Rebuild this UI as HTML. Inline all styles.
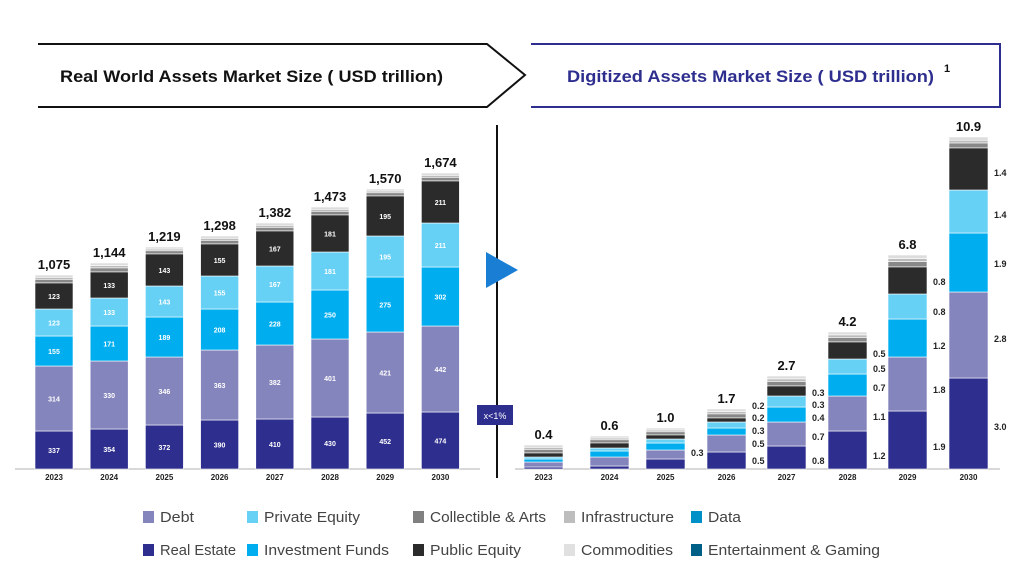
<!DOCTYPE html>
<html><head><meta charset="utf-8"><style>
body{margin:0;background:#fff;width:1024px;height:576px;overflow:hidden;font-family:"Liberation Sans",sans-serif}
svg{display:block}
</style></head><body>
<svg id="s" width="1024" height="576" xmlns="http://www.w3.org/2000/svg" font-family="Liberation Sans, sans-serif">
<polyline points="38,44 487,44 525,75 487,107 38,107" fill="none" stroke="#111" stroke-width="2"/>
<text x="60" y="82" font-size="17" font-weight="bold" fill="#111" textLength="383" lengthAdjust="spacingAndGlyphs">Real World Assets Market Size ( USD trillion)</text>
<polyline points="531,44 1000,44 1000,107 531,107" fill="none" stroke="#2e2e8f" stroke-width="2"/>
<text x="567" y="82" font-size="17" font-weight="bold" fill="#2e2e8f" textLength="367" lengthAdjust="spacingAndGlyphs">Digitized Assets Market Size ( USD trillion)</text>
<text x="944" y="72" font-size="11" font-weight="bold" fill="#111">1</text>
<line x1="497" y1="125" x2="497" y2="478" stroke="#111" stroke-width="2"/>
<polygon points="486,252 518,270 486,288" fill="#1a7fd4"/>
<rect x="477" y="405" width="36" height="20" fill="#2e2e8f"/>
<text x="495" y="419" font-size="9" fill="#fff" text-anchor="middle">x&lt;1%</text>
<line x1="15" y1="469" x2="480" y2="469" stroke="#ccc" stroke-width="1.5"/>
<line x1="515" y1="469" x2="1000" y2="469" stroke="#ccc" stroke-width="1.5"/>
<g id="g"></g>
</svg>
<script>
var C=['#2e2e8f','#8585bd','#00aeef','#66d0f5','#2b2b2b'];
var g=document.getElementById('g'),h='';
function R(x,y,w,hh,f){h+='<rect x="'+x+'" y="'+y+'" width="'+w+'" height="'+hh+'" fill="'+f+'" stroke="#fff" stroke-width="0.6"/>';}
function T(x,y,t,s,f,a,w,tl){h+='<text x="'+x+'" y="'+y+'" font-size="'+s+'" fill="'+f+'" text-anchor="'+(a||'middle')+'" font-weight="'+(w||'normal')+'"'+(tl?' textLength="'+tl+'" lengthAdjust="spacingAndGlyphs"':'')+'>'+t+'</text>';}
function caps(x,w,top,bk){var d=bk-top;R(x,top,w,d*0.3,'#ddd');R(x,top+d*0.3,w,d*0.25,'#bbb');R(x,top+d*0.55,w,d*0.45,'#888');}
var yrs=['2023','2024','2025','2026','2027','2028','2029','2030'];
var L=[[275,283,309,336,366,431],[263,272,298,326,361,429],[247,254,286,317,357,425],[236,244,276,309,350,420],[223,231,266,302,345,419],[207,215,252,290,339,417],[189,196,236,277,332,413],[173,181,223,267,326,412]];
var LV=[[337,314,155,123,123],[354,330,171,133,133],[372,346,189,143,143],[390,363,208,155,155],[410,382,228,167,167],[430,401,250,181,181],[452,421,275,195,195],[474,442,302,211,211]];
var LT=['1,075','1,144','1,219','1,298','1,382','1,473','1,570','1,674'];
for(var i=0;i<8;i++){var x=35+i*55.2,w=38,b=L[i],bs=[469,b[5],b[4],b[3],b[2],b[1]];
 caps(x,w,b[0],b[1]);
 for(var k=0;k<5;k++){R(x,bs[k+1],w,bs[k]-bs[k+1],C[k]);T(x+w/2,(bs[k]+bs[k+1])/2+3,LV[i][k],7,'#fff','middle','bold');}
 T(x+w/2,b[0]-6,LT[i],13,'#111','middle','bold');T(x+w/2,480,yrs[i],8,'#222','middle','bold');}
var Rr=[[445,453,457,459,462,467],[436,443,448,451,457,466],[428,435,439,443,450,459],[409,418,422,428,435,452],[376,386,396,407,422,446],[332,342,359,374,396,431],[255,267,294,319,357,411],[137,148,190,233,292,378]];
var RX=[524,590,646,707,767,828,888,949];
var RT=['0.4','0.6','1.0','1.7','2.7','4.2','6.8','10.9'];
var RV=[[],[],[['0.3',453]],[['0.5',461],['0.5',444],['0.3',431],['0.2',418],['0.2',406]],[['0.8',461],['0.7',437],['0.4',418],['0.3',405],['0.3',393]],[['1.2',456],['1.1',417],['0.7',388],['0.5',369],['0.5',354]],[['1.9',447],['1.8',390],['1.2',346],['0.8',312],['0.8',282]],[['3.0',427],['2.8',339],['1.9',264],['1.4',215],['1.4',173]]];
for(var i=0;i<8;i++){var x=RX[i],w=39,b=Rr[i],bs=[469,b[5],b[4],b[3],b[2],b[1]];
 caps(x,w,b[0],b[1]);
 for(var k=0;k<5;k++)R(x,bs[k+1],w,bs[k]-bs[k+1],C[k]);
 RV[i].forEach(function(v){T(x+w+6,v[1]+3,v[0],9,'#222','start','bold');});
 T(x+w/2,b[0]-6,RT[i],13,'#111','middle','bold');T(x+w/2,480,yrs[i],8,'#222','middle','bold');}
var LG=[[143,517,'#8585bd','Debt',34],[247,517,'#66d0f5','Private Equity',96],[413,517,'#808080','Collectible &amp; Arts',116],[564,517,'#bdbdbd','Infrastructure',93],[691,517,'#0090c8','Data',33],
[143,550,'#2e2e8f','Real Estate',76],[247,550,'#00aeef','Investment Funds',125],[413,550,'#2b2b2b','Public Equity',91],[564,550,'#e0e0e0','Commodities',92],[691,550,'#005f86','Entertainment &amp; Gaming',172]];
LG.forEach(function(l){var x=l[0];
 h+='<rect x="'+x+'" y="'+(l[1]-6)+'" width="11" height="12" fill="'+l[2]+'"/>';T(x+17,l[1]+5,l[3],14.5,'#444','start','normal',l[4]);});
g.innerHTML=h;
</script>
</body></html>
